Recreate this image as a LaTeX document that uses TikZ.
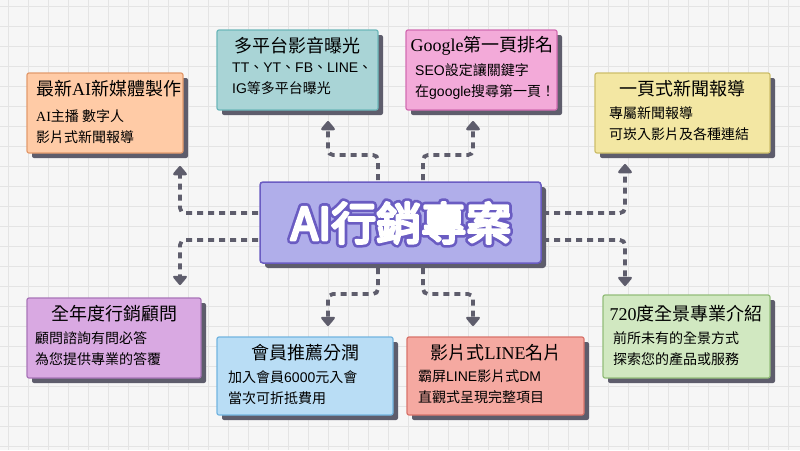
\documentclass[tikz,border=0pt]{standalone}
\usepackage{fontspec}
\setmainfont{Noto Sans CJK TC}
\newfontfamily\lserif{Liberation Serif}
\newfontfamily\lsans{Liberation Sans}
\usetikzlibrary{arrows.meta}
\definecolor{bgc}{HTML}{F6F6F6}
\definecolor{gridc}{HTML}{E4E4E4}
\definecolor{shad}{HTML}{5E5D6C}
\definecolor{oF}{HTML}{FFCBA6}\definecolor{oB}{HTML}{E39A6C}
\definecolor{tF}{HTML}{A9D4D6}\definecolor{tB}{HTML}{6DB7BA}
\definecolor{pF}{HTML}{F3AAD9}\definecolor{pB}{HTML}{D26CB2}
\definecolor{yF}{HTML}{F3E7A3}\definecolor{yB}{HTML}{CDBE6A}
\definecolor{cF}{HTML}{B0AEEA}\definecolor{cB}{HTML}{6A5CC2}
\definecolor{vF}{HTML}{D9A9E2}\definecolor{vB}{HTML}{A874B8}
\definecolor{bF}{HTML}{B9DDF5}\definecolor{bB}{HTML}{72B4E0}
\definecolor{sF}{HTML}{F5A9A1}\definecolor{sB}{HTML}{D8736A}
\definecolor{gF}{HTML}{D1E8C1}\definecolor{gB}{HTML}{93BD7A}
\tikzset{
 card/.style={draw=#1, line width=1.2pt, rounded corners=2pt},
 conn/.style={draw=shad, line width=3.8pt, dash pattern=on 6pt off 5pt, rounded corners=5pt,
   -{Triangle[width=16pt,length=10pt,round]}},
 ttl/.style={anchor=west, font=\fontsize{18}{20}\selectfont, text=black, inner sep=0},
 sub/.style={anchor=north west, align=left, font=\fontsize{14}{21}\selectfont, text=black, inner sep=0},
}
\newcommand{\card}[6]{%
 \fill[shad, rounded corners=2pt] (#1+5,#2+5) rectangle (#3+5,#4+5);
 \path[card=#6, fill=#5] (#1,#2) rectangle (#3,#4);}
\begin{document}
\begin{tikzpicture}[x=1pt,y=-1pt]
\useasboundingbox (0,0) rectangle (800,450);
\fill[bgc] (0,0) rectangle (800,450);
\foreach \i in {0,20,...,800} \draw[gridc,line width=1pt] (\i+8,0) -- (\i+8,450);
\foreach \i in {0,20,...,440} \draw[gridc,line width=1pt] (0,\i+6) -- (800,\i+6);
% cards
\card{27}{73}{183}{153}{oF}{oB}
\card{217}{30}{378}{110}{tF}{tB}
\card{406}{30}{557}{110}{pF}{pB}
\card{595}{73}{770}{153}{yF}{yB}
\card{27}{298}{201}{378}{vF}{vB}
\card{217}{337}{393}{415}{bF}{bB}
\card{407}{337}{584}{415}{sF}{sB}
\card{603}{295}{770}{378}{gF}{gB}
\fill[shad, rounded corners=3pt] (265,187) rectangle (546,268);
\path[draw=cB, line width=1.5pt, fill=cF, rounded corners=3pt] (260,182) rectangle (541,263);
\node[text=white, font=\fontsize{45}{48}\selectfont] (ctext) at (401,223)
  {\special{pdf:code q 1 Tr 8 w 1 j 0.416 0.361 0.761 RG}\rlap{AI行銷專案}\special{pdf:code Q}%
   \special{pdf:code q 2 Tr 2.6 w 1 j 1 1 1 RG}AI行銷專案\special{pdf:code Q}};
% texts
\node[ttl] (t1) at (36,89) {最新{\lserif AI}新媒體製作};
\node[sub] (s1) at (36,109) {{\lserif AI}主播 數字人\\影片式新聞報導};
\node[ttl,anchor=center] (t2) at (297,46) {多平台影音曝光};
\node[sub] (s2) at (232,63) {{\lsans TT}、{\lsans YT}、{\lsans FB}、{\lsans LINE}、\\{\lsans IG}等多平台曝光};
\node[ttl,anchor=center] (t3) at (482,46) {{\lserif Google}第一頁排名};
\node[sub] (s3) at (415,63) {{\lsans SEO}設定讓關鍵字\\在{\lsans google}搜尋第一頁！};
\node[ttl,anchor=center] (t4) at (682,89) {一頁式新聞報導};
\node[sub] (s4) at (609,106) {專屬新聞報導\\可崁入影片及各種連結};
\node[ttl,anchor=center] (t5) at (114,314) {全年度行銷顧問};
\node[sub] (s5) at (35,331) {顧問諮詢有問必答\\為您提供專業的答覆};
\node[ttl,anchor=center] (t6) at (305,353) {會員推薦分潤};
\node[sub] (s6) at (228,370) {加入會員{\lsans 6000}元入會\\當次可折抵費用};
\node[ttl,anchor=center] (t7) at (496,353) {影片式{\lserif LINE}名片};
\node[sub] (s7) at (418,370) {霸屏{\lsans LINE}影片式{\lsans DM}\\直觀式呈現完整項目};
\node[ttl,anchor=center] (t8) at (686,314) {{\lserif 720}度全景專業介紹};
\node[sub] (s8) at (613,331) {前所未有的全景方式\\探索您的產品或服務};
% connectors
\coordinate (a1) at (378,180); \coordinate (e1) at (328,121);
\coordinate (a2) at (423,180); \coordinate (e2) at (473,121);
\coordinate (a3) at (258,213); \coordinate (e3) at (180,166);
\coordinate (a4) at (258,240); \coordinate (e4) at (180,285);
\coordinate (a5) at (543,213); \coordinate (e5) at (625,164);
\coordinate (a6) at (543,240); \coordinate (e6) at (625,286);
\coordinate (a7) at (378,268); \coordinate (e7) at (328,326);
\coordinate (a8) at (423,268); \coordinate (e8) at (473,326);
\draw[conn] (a1) |- (353,155) -| (e1);
\draw[conn] (a2) |- (448,155) -| (e2);
\draw[conn] (a3) -| (e3);
\draw[conn] (a4) -| (e4);
\draw[conn] (a5) -| (e5);
\draw[conn] (a6) -| (e6);
\draw[conn] (a7) |- (353,294) -| (e7);
\draw[conn] (a8) |- (448,294) -| (e8);
\end{tikzpicture}
\end{document}
